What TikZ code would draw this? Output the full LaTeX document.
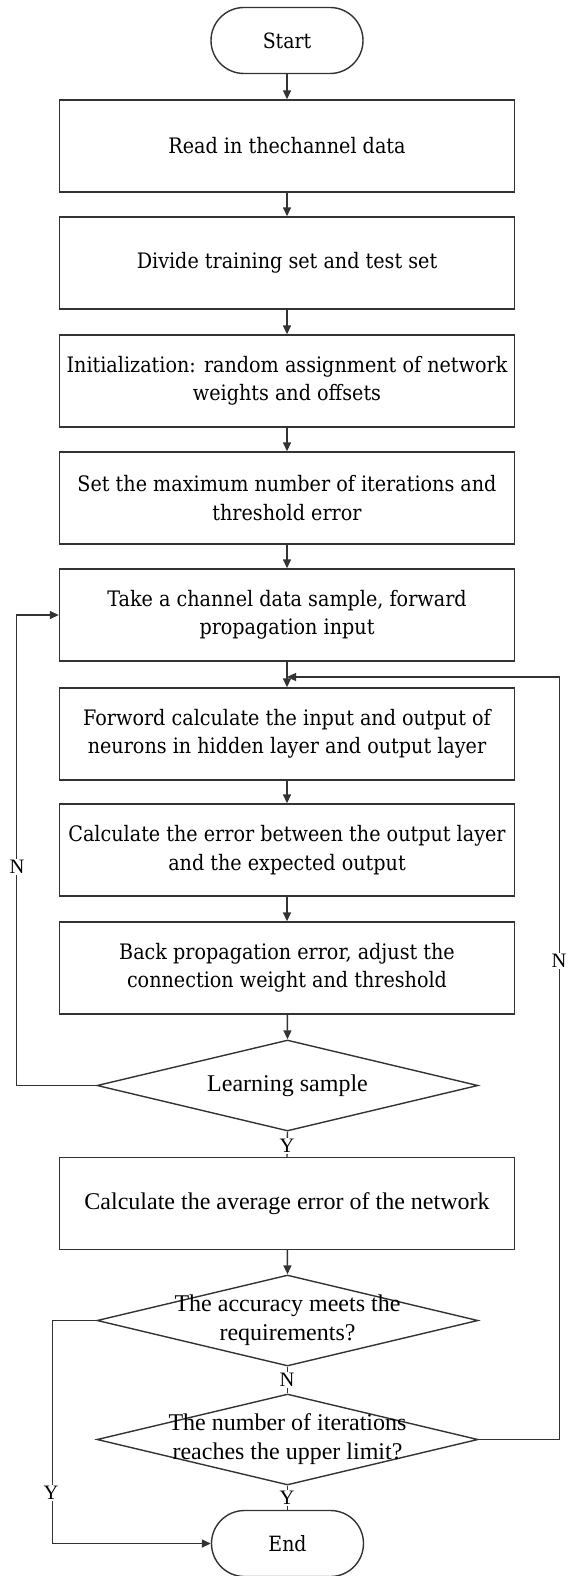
\documentclass[tikz,border=0pt]{standalone}
\usepackage{fontspec}
\setmainfont{DejaVu Serif}[FakeStretch=0.9]
\newfontfamily\tnr{Liberation Serif}
\usetikzlibrary{arrows.meta,shapes.geometric}
\tikzset{
  box/.style={draw=black!80, line width=1.4pt, rectangle, minimum width=455pt, minimum height=92pt, align=center, font=\fontsize{21.3}{28.5}\selectfont},
  term/.style={draw=black!80, line width=1.4pt, rectangle, rounded corners=33pt, minimum width=152pt, minimum height=66pt, font=\fontsize{21}{28}\selectfont},
  decision/.style={draw=black!80, line width=1.4pt, diamond, minimum width=381pt, minimum height=91pt, inner sep=0pt},
  dtext/.style={align=center, font=\tnr\fontsize{24}{29}\selectfont},
  yn/.style={fill=white, inner sep=1.5pt, font=\tnr\fontsize{20.5}{20}\selectfont},
  link/.style={draw=black!80, line width=1.4pt},
  flow/.style={link, -{Triangle[length=9pt,width=8pt]}}
}
\begin{document}
\begin{tikzpicture}[x=1pt,y=-1pt]
  \useasboundingbox (0,0) rectangle (568,1576);

  % main column
  \node[term] (start) at (287,40.5) {Start};
  \node[box] (s1) at (287,146) {Read in thechannel data};
  \node[box] (s2) at (287,263) {Divide training set and test set};
  \node[box] (s3) at (287,381) {Initialization: random assignment of network\\weights and offsets};
  \node[box] (s4) at (287,498) {Set the maximum number of iterations and\\threshold error};
  \node[box] (s5) at (287,615) {Take a channel data sample, forward\\propagation input};
  \node[box] (s6) at (287,734) {Forword calculate the input and output of\\neurons in hidden layer and output layer};
  \node[box] (s7) at (287,850) {Calculate the error between the output layer\\and the expected output};
  \node[box] (s8) at (287,968) {Back propagation error, adjust the\\connection weight and threshold};
  \node[decision] (d1) at (287.5,1085.5) {};
  \node[dtext] (d1t) at (d1) {Learning sample};
  \node[box, font=\tnr\fontsize{24}{29}\selectfont] (s9) at (287,1203.5) {Calculate the average error of the network};
  \node[decision] (d2) at (287.5,1320.5) {};
  \node[dtext] (d2t) at (d2) {The accuracy meets the\\requirements?};
  \node[decision] (d3) at (287.5,1439.5) {};
  \node[dtext] (d3t) at (d3) {The number of iterations\\reaches the upper limit?};
  \node[term] (end) at (287.5,1543.5) {End};

  \coordinate (j) at (287,677);

  % straight flow
  \draw[flow] (start) -- (s1);
  \draw[flow] (s1) -- (s2);
  \draw[flow] (s2) -- (s3);
  \draw[flow] (s3) -- (s4);
  \draw[flow] (s4) -- (s5);
  \draw[flow] (s5) -- (s6);
  \draw[flow] (s6) -- (s7);
  \draw[flow] (s7) -- (s8);
  \draw[flow] (s8) -- (d1.north);
  \draw[link] (d1.south) -- (s9.north);
  \draw[flow] (s9) -- (d2.north);
  \draw[link] (d2.south) -- (d3.north);
  \draw[link] (d3.south) -- (end.north);

  % loops
  \draw[flow] (d1.west) -- ++(-80,0) |- (s5.west);
  \draw[flow] (d2.west) -- ++(-44,0) |- (end.west);
  \draw[flow] (d3.east) -- ++(81,0) |- (j);

  % labels
  \node[yn] (y1) at (287,1146) {Y};
  \node[yn] (n2) at (287,1380) {N};
  \node[yn] (y3) at (287,1498) {Y};
  \node[yn] (nl) at (17,867) {N};
  \node[yn] (nr) at (559,961) {N};
  \node[yn] (yl) at (51,1493) {Y};
\end{tikzpicture}
\end{document}
